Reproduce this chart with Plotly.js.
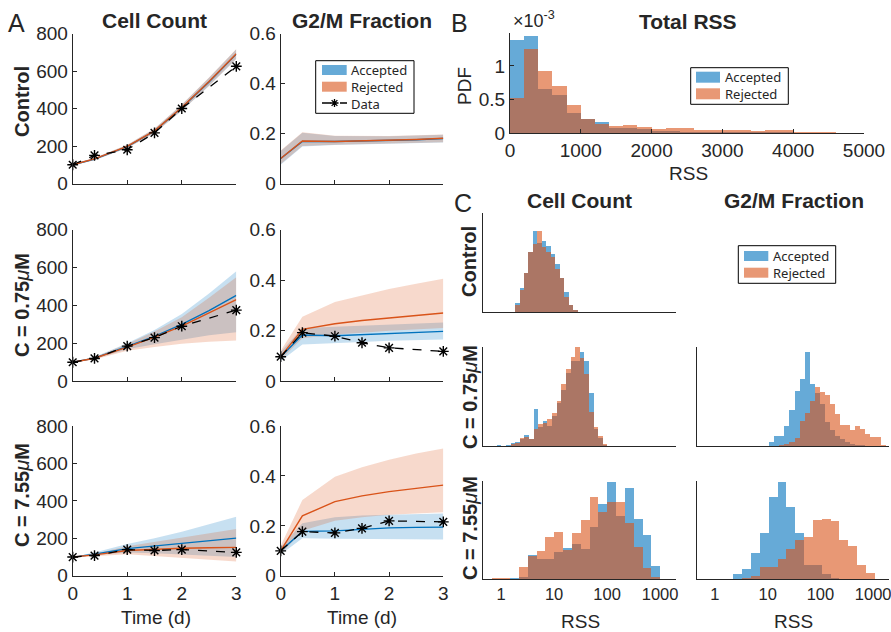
<!DOCTYPE html>
<html>
<head>
<meta charset="utf-8">
<script src="https://cdn.plot.ly/plotly-3.0.1.min.js"></script>
<style>html,body{margin:0;padding:0;background:#fff;}#chart{width:891px;height:632px;}</style>
</head>
<body>
<div id="chart"></div>
<script>
// ---------------- DATA ----------------
const tData = [0, 0.4, 1, 1.5, 2, 3];
const tModel = [0, 0.4, 1, 1.5, 2, 2.5, 3];

// Panel A — Control
const ctrlCountData = [100, 150, 180, 270, 400, 625];
const ctrlCountAcc = [100, 130, 197, 280, 404, 542, 690];
const ctrlCountRej = [100, 131, 198, 281, 405, 544, 692];
const ctrlCountAccLo = [96, 124, 189, 268, 388, 520, 664];
const ctrlCountAccHi = [104, 136, 206, 292, 420, 564, 716];
const ctrlCountRejLo = [96, 125, 190, 269, 389, 522, 666];
const ctrlCountRejHi = [104, 137, 207, 293, 421, 566, 718];

const ctrlG2mAcc = [0.1, 0.168, 0.168, 0.170, 0.172, 0.175, 0.180];
const ctrlG2mRej = [0.1, 0.170, 0.168, 0.170, 0.172, 0.176, 0.181];
const ctrlG2mAccLo = [0.075, 0.148, 0.154, 0.157, 0.160, 0.162, 0.164];
const ctrlG2mAccHi = [0.130, 0.203, 0.190, 0.188, 0.189, 0.192, 0.195];
const ctrlG2mRejLo = [0.078, 0.150, 0.155, 0.158, 0.161, 0.163, 0.165];
const ctrlG2mRejHi = [0.132, 0.205, 0.191, 0.189, 0.190, 0.193, 0.196];

// Panel A — C = 0.75 uM
const lowCountData = [100, 120, 185, 230, 290, 375];
const lowCountAcc = [100, 122, 183, 236, 300, 372, 453];
const lowCountRej = [100, 121, 180, 232, 290, 358, 430];
const lowCountAccLo = [100, 117, 168, 195, 220, 242, 258];
const lowCountAccHi = [100, 127, 200, 270, 355, 462, 580];
const lowCountRejLo = [100, 115, 160, 180, 197, 208, 215];
const lowCountRejHi = [100, 126, 196, 262, 337, 440, 548];

const lowG2mData = [0.097, 0.192, 0.178, 0.152, 0.132, 0.118];
const lowG2mAcc = [0.097, 0.183, 0.180, 0.184, 0.190, 0.194, 0.197];
const lowG2mRej = [0.097, 0.205, 0.227, 0.240, 0.250, 0.260, 0.270];
const lowG2mAccLo = [0.080, 0.145, 0.150, 0.155, 0.160, 0.163, 0.165];
const lowG2mAccHi = [0.115, 0.210, 0.215, 0.220, 0.225, 0.228, 0.232];
const lowG2mRejLo = [0.085, 0.170, 0.185, 0.192, 0.200, 0.205, 0.210];
const lowG2mRejHi = [0.120, 0.255, 0.313, 0.340, 0.365, 0.385, 0.405];

// Panel A — C = 7.55 uM
const highCountData = [100, 108, 140, 135, 140, 125];
const highCountAcc = [100, 115, 145, 160, 172, 187, 201];
const highCountRej = [100, 112, 135, 142, 147, 150, 152];
const highCountAccLo = [100, 108, 125, 120, 115, 108, 100];
const highCountAccHi = [100, 125, 170, 200, 235, 275, 316];
const highCountRejLo = [100, 105, 115, 105, 95, 85, 76];
const highCountRejHi = [100, 118, 158, 180, 205, 228, 250];

const highG2mData = [0.1, 0.177, 0.172, 0.190, 0.220, 0.216];
const highG2mAcc = [0.1, 0.178, 0.180, 0.187, 0.192, 0.194, 0.195];
const highG2mRej = [0.1, 0.240, 0.297, 0.320, 0.337, 0.350, 0.363];
const highG2mAccLo = [0.085, 0.150, 0.148, 0.146, 0.145, 0.145, 0.145];
const highG2mAccHi = [0.115, 0.210, 0.235, 0.242, 0.245, 0.248, 0.250];
const highG2mRejLo = [0.085, 0.180, 0.220, 0.235, 0.245, 0.250, 0.255];
const highG2mRejHi = [0.120, 0.304, 0.397, 0.435, 0.465, 0.490, 0.510];

// Panel B — Total RSS histogram (bins of 200 starting at 0), PDF x 1e-3
const totalRssBinStart = 0;
const totalRssBinWidth = 200;
const totalRssAcc = [1.39, 1.45, 0.655, 0.57, 0.30, 0.21, 0.16, 0.08, 0.07, 0.06, 0.03, 0.03, 0.02, 0.02, 0.02, 0.015, 0.01, 0.01, 0.01, 0.01, 0.005, 0.005, 0, 0, 0];
const totalRssRej = [0.52, 1.25, 0.92, 0.70, 0.41, 0.21, 0.14, 0.10, 0.12, 0.09, 0.06, 0.075, 0.075, 0.05, 0.05, 0.05, 0.05, 0.025, 0.05, 0.05, 0.015, 0.015, 0.01, 0.005, 0.005];

// Panel C — RSS histograms (log10 bin start, log10 bin width, relative heights)
const ccCtrlStart = 0.264, ccCtrlWidth = 0.0843;
const ccCtrlAcc = [0.09, 0.24, 0.39, 0.61, 0.82, 0.70, 0.72, 0.67, 0.59, 0.48, 0.34, 0.20, 0.07, 0.02, 0.005];
const ccCtrlRej = [0.074, 0.22, 0.39, 0.61, 0.69, 0.82, 0.66, 0.61, 0.56, 0.43, 0.34, 0.15, 0.07, 0.02, 0];

const ccLowStart = -0.081, ccLowWidth = 0.087;
const ccLowAcc = [0.01, 0, 0.01, 0.034, 0.04, 0.075, 0.11, 0.068, 0.37, 0.19, 0.25, 0.20, 0.30, 0.43, 0.57, 0.74, 0.86, 0.86, 0.95, 0.86, 0.54, 0.17, 0.085, 0.01];
const ccLowRej = [0, 0, 0.005, 0.017, 0.034, 0.085, 0.09, 0.075, 0.175, 0.22, 0.23, 0.27, 0.33, 0.45, 0.63, 0.78, 0.90, 1.0, 0.89, 0.73, 0.34, 0.19, 0.10, 0.024];

const ccHighStart = -0.164, ccHighWidth = 0.1667;
const ccHighAcc = [0, 0.005, 0.014, 0.02, 0.25, 0.20, 0.20, 0.28, 0.32, 0.36, 0.31, 0.53, 0.77, 0.99, 0.64, 0.93, 0.61, 0.45, 0.13];
const ccHighRej = [0.007, 0.01, 0.005, 0.12, 0.235, 0.29, 0.43, 0.48, 0.30, 0.47, 0.60, 0.84, 0.68, 0.79, 0.79, 0.57, 0.33, 0.11, 0.02];

const gmLowStart = 1.029, gmLowWidth = 0.096;
const gmLowAcc = [0.04, 0.10, 0.10, 0.20, 0.36, 0.56, 0.68, 0.95, 0.63, 0.54, 0.42, 0.24, 0.16, 0.10, 0.07, 0.04, 0.02, 0.01, 0.01, 0, 0, 0, 0];
const gmLowRej = [0, 0, 0.01, 0.02, 0.04, 0.08, 0.25, 0.33, 0.45, 0.60, 0.55, 0.52, 0.42, 0.32, 0.21, 0.21, 0.16, 0.20, 0.17, 0.12, 0.09, 0.09, 0.01];

const gmHighStart = 0.35, gmHighWidth = 0.1675;
const gmHighAcc = [0.05, 0.10, 0.27, 0.47, 0.84, 0.99, 0.73, 0.47, 0.14, 0.14, 0.05, 0.01, 0, 0, 0, 0];
const gmHighRej = [0, 0.01, 0.03, 0.12, 0.12, 0.20, 0.31, 0.40, 0.43, 0.60, 0.61, 0.59, 0.40, 0.34, 0.14, 0.06];

const countTicks = [0, 200, 400, 600, 800];
const fracTicks = [0, 0.2, 0.4, 0.6];
const timeTicks = [0, 1, 2, 3];
const rssTicks = [0, 1000, 2000, 3000, 4000, 5000];
const pdfTicks = [0, 0.0005, 0.001];
const pdfTickText = ['0', '0.5', '1'];
const logTicks = [0, 1, 2, 3];
const logTickText = ['1', '10', '100', '1000'];

// ---------------- STYLE ----------------
const W = 891, H = 632;
const FONT = '"Liberation Sans", Arial, Helvetica, sans-serif';
const LEGFONT = '"Noto Sans", "Open Sans", sans-serif';
const INK = '#262626';
const BLUE = '#0072BD', ORANGE = '#D95319';
const BLUE_BAND = 'rgba(0,114,189,0.22)', ORANGE_BAND = 'rgba(217,83,25,0.22)';
const BLUE_BAR = 'rgba(0,114,189,0.6)', ORANGE_BAR = 'rgba(217,83,25,0.6)';

function xd(a, b) { return [a / W, b / W]; }
function yd(top, bot) { return [1 - bot / H, 1 - top / H]; }
function px(x) { return x / W; }
function py(y) { return 1 - y / H; }

function axis(dom, range, extra) {
  return Object.assign({
    domain: dom, range: range, showline: true, linecolor: INK, linewidth: 1,
    mirror: false, ticks: 'inside', ticklen: 4, tickcolor: INK, tickwidth: 1,
    showgrid: false, zeroline: false, fixedrange: true, ticklabeloverflow: 'allow',
    tickfont: { family: FONT, size: 19, color: INK }
  }, extra || {});
}
const smallTickFont = { family: FONT, size: 16.5, color: INK };

const traces = [];
function band(x, lo, hi, color, n) {
  traces.push({ x: x.concat(x.slice().reverse()), y: hi.concat(lo.slice().reverse()),
    fill: 'toself', fillcolor: color, mode: 'lines', line: { width: 0 },
    xaxis: 'x' + n, yaxis: 'y' + n, hoverinfo: 'skip' });
}
function line(x, y, color, n) {
  traces.push({ x: x, y: y, mode: 'lines', line: { color: color, width: 1.4 },
    xaxis: 'x' + n, yaxis: 'y' + n });
}
function dataLine(x, y, n) {
  traces.push({ x: x, y: y, mode: 'lines+markers', cliponaxis: false,
    line: { color: 'black', width: 1.3, dash: 'dash' },
    marker: { symbol: 'asterisk-open', size: 9, color: 'black', line: { color: 'black', width: 1.4 } },
    xaxis: 'x' + n, yaxis: 'y' + n });
}
function hist(start, width, heights, color, n, scale) {
  traces.push({ type: 'bar', x: heights.map((h, i) => start + width * (i + 0.5)),
    y: heights.map(h => h * (scale || 1)), width: width,
    marker: { color: color, line: { width: 0 } }, xaxis: 'x' + n, yaxis: 'y' + n });
}
function panelA(n, acc, rej, accLo, accHi, rejLo, rejHi, data) {
  band(tModel, accLo, accHi, BLUE_BAND, n);
  band(tModel, rejLo, rejHi, ORANGE_BAND, n);
  line(tModel, acc, BLUE, n);
  line(tModel, rej, ORANGE, n);
  if (data) dataLine(tData, data, n);
}

// Panel A traces
panelA(1, ctrlCountAcc, ctrlCountRej, ctrlCountAccLo, ctrlCountAccHi, ctrlCountRejLo, ctrlCountRejHi, ctrlCountData);
panelA(2, ctrlG2mAcc, ctrlG2mRej, ctrlG2mAccLo, ctrlG2mAccHi, ctrlG2mRejLo, ctrlG2mRejHi, null);
panelA(3, lowCountAcc, lowCountRej, lowCountAccLo, lowCountAccHi, lowCountRejLo, lowCountRejHi, lowCountData);
panelA(4, lowG2mAcc, lowG2mRej, lowG2mAccLo, lowG2mAccHi, lowG2mRejLo, lowG2mRejHi, lowG2mData);
panelA(5, highCountAcc, highCountRej, highCountAccLo, highCountAccHi, highCountRejLo, highCountRejHi, highCountData);
panelA(6, highG2mAcc, highG2mRej, highG2mAccLo, highG2mAccHi, highG2mRejLo, highG2mRejHi, highG2mData);

// Panel B
hist(totalRssBinStart, totalRssBinWidth, totalRssAcc, BLUE_BAR, 7, 1e-3);
hist(totalRssBinStart, totalRssBinWidth, totalRssRej, ORANGE_BAR, 7, 1e-3);

// Panel C
hist(ccCtrlStart, ccCtrlWidth, ccCtrlAcc, BLUE_BAR, 8);
hist(ccCtrlStart, ccCtrlWidth, ccCtrlRej, ORANGE_BAR, 8);
hist(ccLowStart, ccLowWidth, ccLowAcc, BLUE_BAR, 9);
hist(ccLowStart, ccLowWidth, ccLowRej, ORANGE_BAR, 9);
hist(gmLowStart, gmLowWidth, gmLowAcc, BLUE_BAR, 10);
hist(gmLowStart, gmLowWidth, gmLowRej, ORANGE_BAR, 10);
hist(ccHighStart, ccHighWidth, ccHighAcc, BLUE_BAR, 11);
hist(ccHighStart, ccHighWidth, ccHighRej, ORANGE_BAR, 11);
hist(gmHighStart, gmHighWidth, gmHighAcc, BLUE_BAR, 12);
hist(gmHighStart, gmHighWidth, gmHighRej, ORANGE_BAR, 12);

// ---------------- LAYOUT ----------------
const colA1 = xd(72.7, 236.3), colA2 = xd(280.7, 443.3);
const rowA1 = yd(33.5, 183.5), rowA2 = yd(229.5, 381.2), rowA3 = yd(426, 575.8);
const colC1 = xd(483, 676), colC2 = xd(697, 889);
const rowC1 = yd(213, 312), rowC2 = yd(347, 446), rowC3 = yd(481, 579);
const logRange = [-0.34, 3.3];

const layout = {
  width: W, height: H, margin: { l: 0, r: 0, t: 0, b: 0 },
  paper_bgcolor: '#fff', plot_bgcolor: 'rgba(0,0,0,0)',
  showlegend: false, barmode: 'overlay', bargap: 0,
  font: { family: FONT, color: INK },
  xaxis: axis(colA1, [0, 3], { anchor: 'y', tickvals: timeTicks, showticklabels: false }),
  yaxis: axis(rowA1, [0, 800], { anchor: 'x', tickvals: countTicks }),
  xaxis2: axis(colA2, [0, 3], { anchor: 'y2', tickvals: timeTicks, showticklabels: false }),
  yaxis2: axis(rowA1, [0, 0.6], { anchor: 'x2', tickvals: fracTicks }),
  xaxis3: axis(colA1, [0, 3], { anchor: 'y3', tickvals: timeTicks, showticklabels: false }),
  yaxis3: axis(rowA2, [0, 800], { anchor: 'x3', tickvals: countTicks }),
  xaxis4: axis(colA2, [0, 3], { anchor: 'y4', tickvals: timeTicks, showticklabels: false }),
  yaxis4: axis(rowA2, [0, 0.6], { anchor: 'x4', tickvals: fracTicks }),
  xaxis5: axis(colA1, [0, 3], { anchor: 'y5', tickvals: timeTicks }),
  yaxis5: axis(rowA3, [0, 800], { anchor: 'x5', tickvals: countTicks }),
  xaxis6: axis(colA2, [0, 3], { anchor: 'y6', tickvals: timeTicks }),
  yaxis6: axis(rowA3, [0, 0.6], { anchor: 'x6', tickvals: fracTicks }),
  xaxis7: axis(xd(510, 864), [0, 5000], { anchor: 'y7', tickvals: rssTicks }),
  yaxis7: axis(yd(33, 133), [0, 0.00149], { anchor: 'x7', tickvals: pdfTicks, ticktext: pdfTickText }),
  xaxis8: axis(colC1, logRange, { anchor: 'y8', ticks: '', showticklabels: false }),
  yaxis8: axis(rowC1, [0, 1], { anchor: 'x8', ticks: '', showticklabels: false }),
  xaxis9: axis(colC1, logRange, { anchor: 'y9', ticks: '', showticklabels: false }),
  yaxis9: axis(rowC2, [0, 1], { anchor: 'x9', ticks: '', showticklabels: false }),
  xaxis10: axis(colC2, logRange, { anchor: 'y10', ticks: '', showticklabels: false }),
  yaxis10: axis(rowC2, [0, 1], { anchor: 'x10', ticks: '', showticklabels: false }),
  xaxis11: axis(colC1, logRange, { anchor: 'y11', ticks: '', tickvals: logTicks, ticktext: logTickText, tickfont: smallTickFont }),
  yaxis11: axis(rowC3, [0, 1], { anchor: 'x11', ticks: '', showticklabels: false }),
  xaxis12: axis(colC2, logRange, { anchor: 'y12', ticks: '', tickvals: logTicks, ticktext: logTickText, tickfont: smallTickFont }),
  yaxis12: axis(rowC3, [0, 1], { anchor: 'x12', ticks: '', showticklabels: false }),
  annotations: [],
  shapes: []
};

function ann(text, x, y, size, opts) {
  layout.annotations.push(Object.assign({ text: text, x: px(x), y: py(y), xref: 'paper', yref: 'paper',
    showarrow: false, xanchor: 'center', yanchor: 'middle',
    font: { family: FONT, size: size, color: INK } }, opts || {}));
}
// Panel letters
ann('A', 16, 23, 25);
ann('B', 459, 23, 25);
ann('C', 463, 203, 25);
// Titles
ann('<b>Cell Count</b>', 154, 21, 21);
ann('<b>G2/M Fraction</b>', 362, 21, 21);
ann('<b>Total RSS</b>', 688, 22, 21);
ann('<b>Cell Count</b>', 579, 200, 21);
ann('<b>G2/M Fraction</b>', 794, 200, 21);
// Row labels
ann('<b>Control</b>', 22, 102, 20, { textangle: -90 });
ann('<b>C = 0.75</b><i>μ</i><b>M</b>', 22, 305, 20, { textangle: -90 });
ann('<b>C = 7.55</b><i>μ</i><b>M</b>', 22, 495, 20, { textangle: -90 });
ann('<b>Control</b>', 469, 262, 20, { textangle: -90 });
ann('<b>C = 0.75</b><i>μ</i><b>M</b>', 470, 397, 20, { textangle: -90 });
ann('<b>C = 7.55</b><i>μ</i><b>M</b>', 470, 528, 20, { textangle: -90 });
// Axis titles
ann('Time (d)', 156, 617, 19);
ann('Time (d)', 362, 617, 19);
ann('RSS', 688, 173, 19);
ann('PDF', 464, 86, 19, { textangle: -90 });
ann('×10<sup>-3</sup>', 511, 19, 18, { xanchor: 'left' });
ann('RSS', 580, 621, 19);
ann('RSS', 793, 621, 19);

// Legends (drawn as boxes + swatches + text)
function rect(x0, y0, x1, y1, fill, lineColor) {
  layout.shapes.push({ type: 'rect', xref: 'paper', yref: 'paper', x0: px(x0), x1: px(x1), y0: py(y1), y1: py(y0),
    fillcolor: fill, line: { color: lineColor || 'rgba(0,0,0,0)', width: lineColor ? 1 : 0 } });
}
function legText(lines, x, yMid) {
  ann(lines.join('<br>'), x, yMid, 13, { xanchor: 'left', align: 'left', font: { family: LEGFONT, size: 13, color: INK } });
}
// Legend in A (G2/M control)
rect(315.7, 60.7, 414, 113.3, '#fff', '#000');
rect(322, 65, 346.7, 75, BLUE_BAR);
rect(322, 81.7, 346.7, 91.7, ORANGE_BAR);
legText(['Accepted', 'Rejected', 'Data'], 349, 86.7);
layout.shapes.push({ type: 'line', xref: 'paper', yref: 'paper', x0: px(322), x1: px(347), y0: py(103), y1: py(103),
  line: { color: 'black', width: 1.3, dash: 'dash' } });
(function () {
  const cx = 334.5, cy = 103, r = 4, d = r * 0.72;
  const p = `M${px(cx - r)},${py(cy)}L${px(cx + r)},${py(cy)}M${px(cx)},${py(cy - r)}L${px(cx)},${py(cy + r)}` +
    `M${px(cx - d)},${py(cy - d)}L${px(cx + d)},${py(cy + d)}M${px(cx - d)},${py(cy + d)}L${px(cx + d)},${py(cy - d)}`;
  layout.shapes.push({ type: 'path', xref: 'paper', yref: 'paper', path: p, line: { color: 'black', width: 1.3 } });
})();
// Legend in B
rect(690.7, 67.7, 788.3, 104.3, '#fff', '#000');
rect(696, 71.7, 720, 82.7, BLUE_BAR);
rect(696, 88.3, 720, 99.3, ORANGE_BAR);
legText(['Accepted', 'Rejected'], 722.5, 85.5);
// Legend in C
rect(738.3, 245.7, 835.7, 283.3, '#fff', '#000');
rect(744, 251, 768.3, 261, BLUE_BAR);
rect(744, 267.7, 768.3, 277.7, ORANGE_BAR);
legText(['Accepted', 'Rejected'], 771, 264);

Plotly.newPlot('chart', traces, layout, { displayModeBar: false, staticPlot: true });
</script>
</body>
</html>
